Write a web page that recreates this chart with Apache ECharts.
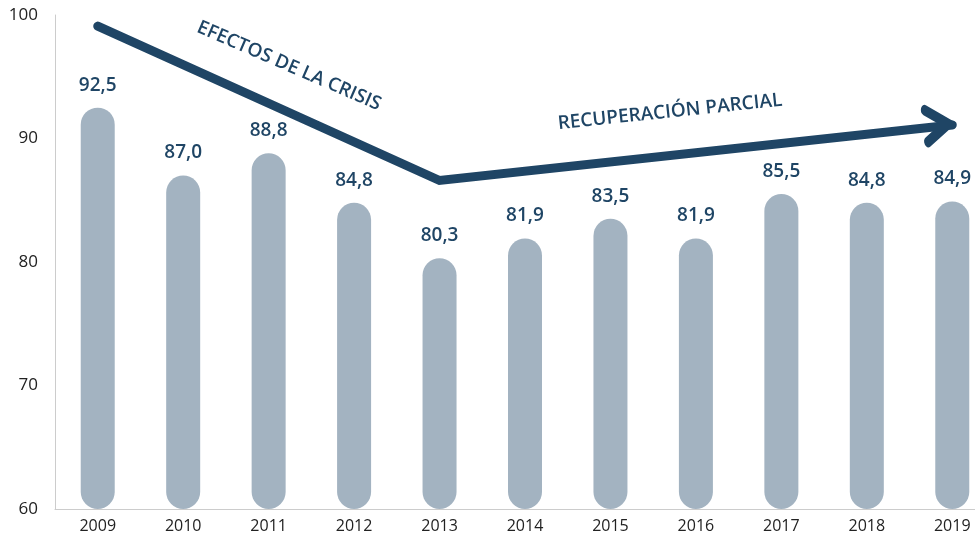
<!DOCTYPE html>
<html>
<head>
<meta charset="utf-8">
<script src="https://cdn.jsdelivr.net/npm/echarts@6/dist/echarts.min.js"></script>
<style>
  html, body { margin: 0; padding: 0; background: #fff; overflow: hidden; }
  #container { width: 995px; height: 538px; }
</style>
</head>
<body>
<div id="container"></div>
<script>
// datos
var years = ['2009', '2010', '2011', '2012', '2013', '2014', '2015', '2016', '2017', '2018', '2019'];
var values = [92.5, 87.0, 88.8, 84.8, 80.3, 81.9, 83.5, 81.9, 85.5, 84.8, 84.9];
var yTicks = [60, 70, 80, 90, 100];
// flecha (crisis -> recuperacion)
var arrowPts = [['2009', 99.1], ['2013', 86.6], ['2019', 91.1]];
var notes = ['EFECTOS DE LA CRISIS', 'RECUPERACIÓN PARCIAL'];

var navy = '#1f4565';
var barColor = '#a3b3c1';

var myChart = echarts.init(document.getElementById('container'));

var option = {
    animation: false,
    grid: { left: 55, right: 0, top: 15, bottom: 29, containLabel: false },
    xAxis: {
        type: 'category',
        data: years,
        axisLine: { show: true, lineStyle: { color: '#cccccc', width: 1 } },
        axisTick: { show: false },
        axisLabel: { color: '#222', fontSize: 16, fontFamily: 'Open Sans', margin: 9 }
    },
    yAxis: {
        type: 'value',
        min: yTicks[0],
        max: yTicks[yTicks.length - 1],
        interval: 10,
        axisLine: { show: true, lineStyle: { color: '#cccccc', width: 1 } },
        axisTick: { show: false },
        splitLine: { show: false },
        axisLabel: { color: '#222', fontSize: 17, fontFamily: 'Open Sans', margin: 17 }
    },
    graphic: [
        {
            type: 'text', x: 289, y: 66, rotation: -23.4 * Math.PI / 180,
            style: { text: notes[0], fill: navy, font: '600 19px "Open Sans"', align: 'center', verticalAlign: 'middle' }
        },
        {
            type: 'text', x: 670, y: 112, rotation: 6 * Math.PI / 180,
            style: { text: notes[1], fill: navy, font: '600 19px "Open Sans"', align: 'center', verticalAlign: 'middle' }
        }
    ],
    series: [
        {
            type: 'bar',
            data: values,
            barWidth: 34,
            itemStyle: { color: barColor, borderRadius: 17 },
            label: {
                show: true,
                position: 'top',
                distance: 13,
                color: navy,
                fontSize: 19,
                fontWeight: 600,
                fontFamily: 'Open Sans',
                formatter: function (p) {
                    return p.value.toFixed(1).replace('.', ',');
                }
            }
        },
        {
            type: 'line',
            data: arrowPts,
            symbol: 'none',
            silent: true,
            z: 5,
            lineStyle: { color: navy, width: 9, cap: 'round', join: 'miter' }
        },
        {
            type: 'scatter',
            data: [arrowPts[arrowPts.length - 1]],
            symbol: 'path://M0,0L22,16L0,32',
            symbolSize: [22, 32],
            symbolOffset: [-15, 0],
            symbolRotate: 6,
            silent: true,
            z: 6,
            itemStyle: { color: 'transparent', opacity: 1, borderColor: navy, borderWidth: 9, borderCap: 'round', borderJoin: 'miter' }
        }
    ]
};

myChart.setOption(option, true);
</script>
</body>
</html>
